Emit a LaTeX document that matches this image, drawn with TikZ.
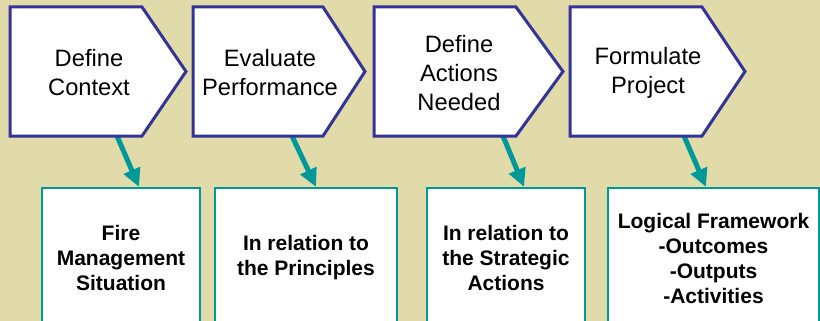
\documentclass[tikz,border=0pt]{standalone}
\usepackage{fontspec}
\setmainfont{Liberation Sans}
\usetikzlibrary{arrows.meta}
\definecolor{bgtan}{RGB}{224,219,168}
\definecolor{navy}{RGB}{51,51,153}
\definecolor{tealc}{RGB}{0,153,153}
\tikzset{
 chev/.style={draw=navy, fill=white, line width=3pt, line join=miter},
 chevtext/.style={align=center, font=\fontsize{23.7}{29}\selectfont, inner sep=0pt},
 outbox/.style={draw=tealc, fill=white, line width=2.3pt, align=center, font=\fontsize{21}{25}\selectfont\bfseries, inner sep=0pt, minimum height=140pt},
 link/.style={draw=tealc, line width=5pt, -{Triangle[width=17pt,length=18pt]}}
}
\begin{document}
\begin{tikzpicture}[x=1pt,y=-1pt]
\useasboundingbox (0,0) rectangle (820,321);
\clip (0,0) rectangle (820,321);
\fill[bgtan] (0,0) rectangle (820,321);

% output boxes
\node[outbox, minimum width=158pt] (b1) at (121,258) {Fire\\Management\\Situation};
\node[outbox, minimum width=182pt] (b2) at (306,258) {In relation to\\the Principles};
\node[outbox, minimum width=158pt] (b3) at (506,258) {In relation to\\the Strategic\\Actions};
\node[outbox, minimum width=211pt] (b4) at (713.5,258) {Logical Framework\\-Outcomes\\-Outputs\\-Activities};

% arrow start points
\coordinate (s1) at (117,136);
\coordinate (s2) at (292,136);
\coordinate (s3) at (503,136);
\coordinate (s4) at (684,136);
\draw[link] (s1) -- ([xshift=18pt]b1.north);
\draw[link] (s2) -- ([xshift=10pt]b2.north);
\draw[link] (s3) -- ([xshift=18pt]b3.north);
\draw[link] (s4) -- ([xshift=-7.5pt]b4.north);

% chevrons
\draw[chev] (10,7) -- (142,7) -- (186,71.5) -- (142,136) -- (10,136) -- cycle;
\draw[chev] (193,7) -- (323,7) -- (365,71.5) -- (323,136) -- (193,136) -- cycle;
\draw[chev] (374,7) -- (516,7) -- (563,71.5) -- (516,136) -- (374,136) -- cycle;
\draw[chev] (570,7) -- (702,7) -- (745,71.5) -- (702,136) -- (570,136) -- cycle;

\node[chevtext] (c1) at (89,73) {Define\\Context};
\node[chevtext] (c2) at (270,73) {Evaluate\\Performance};
\node[chevtext] (c3) at (459,73) {Define\\Actions\\Needed};
\node[chevtext] (c4) at (648,73) {Formulate\\Project};
\end{tikzpicture}
\end{document}
